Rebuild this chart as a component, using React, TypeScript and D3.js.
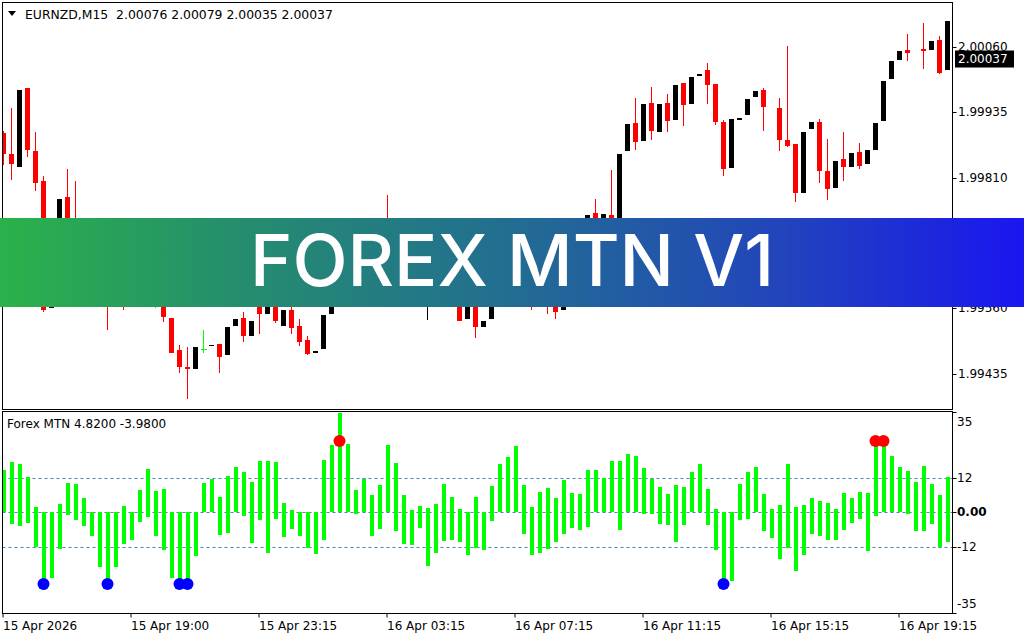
import * as d3 from 'd3'

// * EURNZD M15 candles (null = no candle drawn)
const opens: (number | null)[] = [
  1.99896, 1.99856, 1.99831, 1.99982, 1.99861, 1.99804, 1.99561, 1.99599, 1.99773, 1.99672,
  1.99634, 1.99682, 1.99624, 1.99592, 1.99577, 1.99611, 1.99580, 1.99622, 1.99661, 1.99586,
  1.99586, 1.99542, 1.99481, 1.99448, 1.99443, 1.99481, 1.99487, 1.99492, 1.99470, 1.99527,
  1.99542, 1.99506, 1.99577, 1.99550, 1.99577, 1.99527, 1.99557, 1.99527, 1.99500, 1.99475,
  1.99483, 1.99550, 1.99596, 1.99577, 1.99622, 1.99661, 1.99634, 1.99687, 1.99710, 1.99663,
  1.99634, 1.99657, 1.99615, 1.99592, 1.99617, 1.99649, 1.99611, 1.99584, 1.99540, 1.99577,
  1.99525, 1.99540, 1.99596, 1.99634, 1.99605, 1.99649, 1.99672, 1.99596, 1.99624, 1.99580,
  1.99556, 1.99603, 1.99649, 1.99699, 1.99743, 1.99706, 1.99739, 1.99695, 1.99861, 1.99915,
  1.99880, 1.99953, 1.99898, 1.99953, 1.99921, 1.99991, 1.99951, 2.00005, 2.00016, 1.99989,
  1.99917, 1.99829, 1.99921, 1.99930, 1.99964, 1.99978, null, 1.99943, 1.99882, 1.99875,
  1.99781, 1.99903, 1.99917, 1.99823, 1.99791, 1.99846, 1.99831, 1.99859, 1.99836, 1.99863,
  1.99919, 1.99999, 2.00035, 2.00054, null, 2.00056, 2.00054, 2.00073, 2.00016,
]
const highs: (number | null)[] = [
  1.99900, 1.99943, 1.99978, 1.99982, 1.99898, 1.99814, 1.99605, 1.99770, 1.99827, 1.99804,
  1.99691, 1.99695, 1.99634, 1.99611, 1.99624, 1.99619, 1.99634, 1.99672, 1.99672, 1.99605,
  1.99596, 1.99542, 1.99490, 1.99485, 1.99485, 1.99519, 1.99490, 1.99492, 1.99525, 1.99540,
  1.99552, 1.99536, 1.99586, 1.99596, 1.99586, 1.99556, 1.99577, 1.99540, 1.99506, 1.99479,
  1.99548, 1.99605, 1.99609, 1.99634, 1.99672, 1.99682, 1.99706, 1.99726, 1.99777, 1.99676,
  1.99668, 1.99663, 1.99624, 1.99630, 1.99657, 1.99657, 1.99619, 1.99596, 1.99584, 1.99580,
  1.99536, 1.99603, 1.99643, 1.99649, 1.99657, 1.99684, 1.99680, 1.99634, 1.99634, 1.99592,
  1.99615, 1.99661, 1.99714, 1.99739, 1.99770, 1.99741, 1.99825, 1.99856, 1.99913, 1.99963,
  1.99951, 1.99984, 1.99951, 1.99970, 1.99987, 1.99991, 2.00003, 2.00008, 2.00029, 1.99989,
  1.99921, 1.99922, 1.99924, 1.99961, 1.99976, 1.99982, null, 1.99963, 2.00062, 1.99875,
  1.99898, 1.99917, 1.99922, 1.99884, 1.99842, 1.99898, 1.99857, 1.99877, 1.99863, 1.99915,
  1.99995, 2.00033, 2.00052, 2.00085, null, 2.00106, 2.00071, 2.00081, 2.00110,
]
const lows: (number | null)[] = [
  1.99835, 1.99806, 1.99831, 1.99850, 1.99785, 1.99552, 1.99561, 1.99596, 1.99663, 1.99634,
  1.99624, 1.99615, 1.99577, 1.99519, 1.99571, 1.99557, 1.99573, 1.99615, 1.99596, 1.99561,
  1.99533, 1.99475, 1.99437, 1.99387, 1.99443, 1.99475, 1.99487, 1.99437, 1.99470, 1.99527,
  1.99496, 1.99506, 1.99510, 1.99550, 1.99531, 1.99527, 1.99510, 1.99487, 1.99471, 1.99475,
  1.99483, 1.99550, 1.99567, 1.99571, 1.99615, 1.99624, 1.99630, 1.99680, 1.99653, 1.99619,
  1.99624, 1.99605, 1.99580, 1.99538, 1.99607, 1.99599, 1.99577, 1.99535, 1.99540, 1.99504,
  1.99525, 1.99540, 1.99588, 1.99596, 1.99599, 1.99642, 1.99557, 1.99580, 1.99550, 1.99540,
  1.99556, 1.99596, 1.99642, 1.99691, 1.99699, 1.99699, 1.99687, 1.99691, 1.99861, 1.99863,
  1.99880, 1.99882, 1.99898, 1.99898, 1.99921, 1.99909, 1.99951, 2.00005, 1.99951, 1.99911,
  1.99814, 1.99829, 1.99921, 1.99930, 1.99964, 1.99899, null, 1.99861, 1.99869, 1.99764,
  1.99781, 1.99903, 1.99800, 1.99768, 1.99791, 1.99804, 1.99831, 1.99827, 1.99836, 1.99863,
  1.99919, 1.99999, 2.00035, 2.00033, null, 2.00018, 2.00054, 2.00008, 2.00016,
]
const closes: (number | null)[] = [
  1.99856, 1.99836, 1.99978, 1.99863, 1.99800, 1.99556, 1.99596, 1.99770, 1.99672, 1.99649,
  1.99682, 1.99624, 1.99586, 1.99577, 1.99615, 1.99577, 1.99624, 1.99663, 1.99605, 1.99586,
  1.99544, 1.99475, 1.99447, 1.99443, 1.99485, 1.99481, 1.99490, 1.99466, 1.99525, 1.99540,
  1.99506, 1.99536, 1.99550, 1.99586, 1.99536, 1.99556, 1.99523, 1.99496, 1.99473, 1.99479,
  1.99548, 1.99596, 1.99577, 1.99624, 1.99663, 1.99634, 1.99691, 1.99714, 1.99663, 1.99634,
  1.99657, 1.99615, 1.99592, 1.99619, 1.99649, 1.99611, 1.99586, 1.99536, 1.99577, 1.99525,
  1.99536, 1.99596, 1.99634, 1.99605, 1.99649, 1.99672, 1.99596, 1.99624, 1.99577, 1.99552,
  1.99605, 1.99649, 1.99701, 1.99739, 1.99706, 1.99741, 1.99695, 1.99856, 1.99913, 1.99879,
  1.99951, 1.99899, 1.99951, 1.99919, 1.99987, 1.99949, 2.00003, 2.00008, 1.99987, 1.99917,
  1.99827, 1.99922, 1.99924, 1.99961, 1.99976, 1.99945, null, 1.99882, 1.99871, 1.99781,
  1.99898, 1.99917, 1.99823, 1.99789, 1.99842, 1.99831, 1.99857, 1.99833, 1.99863, 1.99915,
  1.99995, 2.00033, 2.00052, 2.00049, null, 2.00052, 2.00071, 2.00010, 2.00110,
]

// * Forex MTN histogram: each bar spans from histLow to histHigh
const histHigh = [
  14.7, 17.4, 16.8, 12.4, 1.9, 0, 0, 2.9, 10.2, 9.9,
  5.0, 0, 0, 0, 0, 2.2, 0, 7.8, 15.1, 7.4,
  8.1, 0, 0, 0, 0, 10.2, 11.6, 5.3, 12.6, 15.8,
  14.0, 10.6, 17.9, 17.9, 17.5, 3.2, 0.8, 0, 0, 0,
  18.2, 23.4, 34.4, 23.7, 7.8, 11.6, 6.0, 9.5, 23.4, 17.2,
  6.0, 0.8, 2.2, 1.5, 2.9, 9.9, 5.3, 1.2, 0, 5.3,
  0, 9.2, 16.8, 19.2, 23.1, 9.5, 2.0, 7.1, 8.5, 5.0,
  11.2, 6.7, 6.4, 14.7, 14.7, 11.9, 17.9, 17.9, 20.3, 19.6,
  15.4, 11.6, 8.8, 6.4, 9.5, 8.8, 14.0, 16.8, 8.1, 1.2,
  0, 0, 9.9, 14.0, 15.8, 6.4, 1.2, 2.6, 16.8, 1.9,
  2.6, 5.0, 3.9, 3.2, 1.2, 6.7, 5.0, 7.1, 6.7, 24.8,
  24.8, 19.6, 15.8, 14.4, 10.6, 16.1, 9.9, 6.0, 12.2,
]
const histLow = [
  0, -4.1, -4.8, -3.6, -12.2, -27.0, -22.8, -12.8, -0.9, -2.7,
  -4.8, -8.2, -18.9, -26.2, -19.0, -11.0, -9.6, -3.4, -1.5, -8.1,
  -13.1, -22.8, -25.9, -25.9, -15.2, 0, 0, -7.9, -7.1, 0,
  -1.3, -10.6, -2.7, -14.0, -2.2, -8.5, -5.7, -8.2, -12.3, -14.5,
  -9.6, 0, 0, 0, -0.6, 0, -8.2, -5.7, 0, -6.5,
  -11.0, -11.4, -5.4, -18.7, -14.0, -10.0, -9.6, -10.3, -14.8, -12.3,
  -13.1, -2.9, 0, 0, 0, -7.4, -14.8, -14.0, -12.8, -10.3,
  -7.4, -5.4, -6.1, -5.0, 0, 0, 0, -6.1, 0, 0,
  -0.6, -0.6, -4.1, -4.4, -10.2, -4.4, 0, 0, -4.4, -13.1,
  -26.0, -23.8, -2.7, -2.3, 0, -6.5, -8.8, -16.2, -12.3, -20.3,
  -14.8, -7.5, -8.2, -9.6, -9.6, -6.1, -3.7, -2.3, -13.4, -1.3,
  0, 0, 0, -0.6, -6.5, -6.5, -4.1, -12.1, -10.3,
]

const buySignals = [5, 13, 22, 23, 90]
const buyLevel = -24.9
const sellSignals = [42, 109, 110]
const sellLevel = 24.8

const priceTicks = [2.0006, 1.99935, 1.9981, 1.99685, 1.9956, 1.99435]
const indTicks = [35, 12, 0, -12, -35]
const indTickLabels = ['35', '12', '0.00', '-12', '-35']
const indLevels = [12, 0, -12]
const timeIdx = [0, 16, 32, 48, 64, 80, 96, 112]
const timeLabels = [
  '15 Apr 2026', '15 Apr 19:00', '15 Apr 23:15', '16 Apr 03:15',
  '16 Apr 07:15', '16 Apr 11:15', '16 Apr 15:15', '16 Apr 19:15',
]
const lastPrice = 2.00037

const W = 1024
const H = 640
const FONT = '"DejaVu Sans", Verdana, sans-serif'

export default function App() {
  const n = opens.length
  const left = 2.5
  const right = 952.5
  const mainTop = 2.5
  const mainBottom = 409.5
  const indTop = 411.5
  const indBottom = 613.5

  // * Scales
  const x = d3.scaleLinear().domain([0, n - 1]).range([3.5, 3.5 + 8 * (n - 1)])
  const yP = d3.scaleLinear().domain([1.99435, 2.0006]).range([373.6, 47])
  const yI = d3.scaleLinear().domain([-35, 35]).range([613, 411.6])
  const fmt = d3.format('.5f')

  const candles = d3.range(n).filter((i) => opens[i] !== null)

  return (
    <svg width={W} height={H} style={{ position: 'absolute', left: 0, top: 0, background: '#fff' }}>
      <defs>
        <clipPath id="mainClip">
          <rect x={left} y={mainTop} width={right - left} height={mainBottom - mainTop} />
        </clipPath>
        <clipPath id="indClip">
          <rect x={left} y={indTop} width={right - left} height={indBottom - indTop} />
        </clipPath>
        <linearGradient id="banner" x1="0" x2="1" y1="0" y2="0">
          <stop offset="0" stopColor="#2bb24a" />
          <stop offset="0.22" stopColor="#258f6c" />
          <stop offset="0.5" stopColor="#226d92" />
          <stop offset="0.76" stopColor="#2245bb" />
          <stop offset="1" stopColor="#1a16f0" />
        </linearGradient>
      </defs>

      {/* * Candles */}
      <g clipPath="url(#mainClip)" shapeRendering="crispEdges">
        {candles.map((i) => {
          const o = opens[i]!, c = closes[i]!, h = highs[i]!, l = lows[i]!
          const color = o === c ? '#00ff00' : c > o ? '#000000' : '#ff0000'
          const top = yP(Math.max(o, c))
          const bot = yP(Math.min(o, c))
          return (
            <g key={i}>
              <line x1={x(i)} x2={x(i)} y1={yP(h)} y2={yP(l)} stroke={color} strokeWidth={1} />
              {o === c ? (
                <line x1={x(i) - 3} x2={x(i) + 3} y1={top} y2={top} stroke={color} strokeWidth={1} />
              ) : (
                <rect x={x(i) - 2.5} y={top} width={5} height={Math.max(1, bot - top)} fill={color} />
              )}
            </g>
          )
        })}
      </g>

      {/* * Indicator */}
      <g clipPath="url(#indClip)">
        {indLevels.map((v) => (
          <line key={v} x1={left} x2={right} y1={Math.round(yI(v)) + 0.5} y2={Math.round(yI(v)) + 0.5}
            stroke="#4682b4" strokeWidth={1} strokeDasharray="3,3" />
        ))}
        <g shapeRendering="crispEdges">
          {histHigh.map((hv, i) => (
            <rect key={i} x={x(i) - 2} width={4} y={yI(hv)} height={Math.max(1, yI(histLow[i]) - yI(hv))} fill="#00ff00" />
          ))}
        </g>
        {buySignals.map((i) => (
          <circle key={'b' + i} cx={x(i)} cy={yI(buyLevel)} r={6} fill="#0000ff" />
        ))}
        {sellSignals.map((i) => (
          <circle key={'s' + i} cx={x(i)} cy={yI(sellLevel)} r={6} fill="#ff0000" />
        ))}
      </g>

      {/* * Frames */}
      <g fill="none" stroke="#000" strokeWidth={1} shapeRendering="crispEdges">
        <rect x={left} y={mainTop} width={right - left} height={mainBottom - mainTop} />
        <rect x={left} y={indTop} width={right - left} height={indBottom - indTop} />
      </g>

      {/* * Price axis */}
      <g fontFamily={FONT} fontSize={12} fill="#000">
        {priceTicks.map((p) => (
          <g key={p}>
            <line x1={right} x2={right + 4} y1={Math.round(yP(p)) + 0.5} y2={Math.round(yP(p)) + 0.5} stroke="#000" />
            <text x={958} y={yP(p)} dominantBaseline="central">{fmt(p)}</text>
          </g>
        ))}
        <rect x={955} y={yP(lastPrice) - 8.5} width={59} height={17} fill="#000" />
        <text x={958} y={yP(lastPrice)} dominantBaseline="central" fill="#fff">{fmt(lastPrice)}</text>
      </g>

      {/* * Indicator axis */}
      <g fontFamily={FONT} fontSize={12} fill="#000">
        {indTicks.map((v, k) => {
          const yy = v === 35 ? yI(v) + 10 : v === -35 ? yI(v) - 9 : yI(v)
          return (
            <g key={v}>
              <line x1={right} x2={right + 4} y1={Math.round(yI(v)) + 0.5} y2={Math.round(yI(v)) + 0.5} stroke="#000" />
              <text x={957} y={yy} dominantBaseline="central" fontWeight={v === 0 ? 'bold' : 'normal'}>{indTickLabels[k]}</text>
            </g>
          )
        })}
      </g>

      {/* * Time axis */}
      <g fontFamily={FONT} fontSize={12} fill="#000">
        {timeIdx.map((i, k) => (
          <g key={i}>
            <line x1={x(i) - 0.5} x2={x(i) - 0.5} y1={indBottom} y2={indBottom + 4} stroke="#000" />
            <text x={x(i) - 0.5} y={626} dominantBaseline="central">{timeLabels[k]}</text>
          </g>
        ))}
      </g>

      {/* * Headers */}
      <path d="M8,11 L16,11 L12,16 Z" fill="#000" />
      <text x={25} y={14} dominantBaseline="central" fontFamily={FONT} fontSize={12.4} fill="#000"
        style={{ whiteSpace: 'pre' }}>
        {'EURNZD,M15  2.00076 2.00079 2.00035 2.00037'}
      </text>
      <text x={7} y={424} dominantBaseline="central" fontFamily={FONT} fontSize={12} fill="#000">
        Forex MTN 4.8200 -3.9800
      </text>

      {/* * Banner */}
      <rect x={0} y={218} width={W} height={89} fill="url(#banner)" />
      <text x={512} y={286} textAnchor="middle" fontFamily="Inter, 'Open Sans', sans-serif" fontWeight={500}
        fontSize={72} fill="#fff" textLength={524} lengthAdjust="spacingAndGlyphs">
        FOREX MTN V1
      </text>
    </svg>
  )
}
